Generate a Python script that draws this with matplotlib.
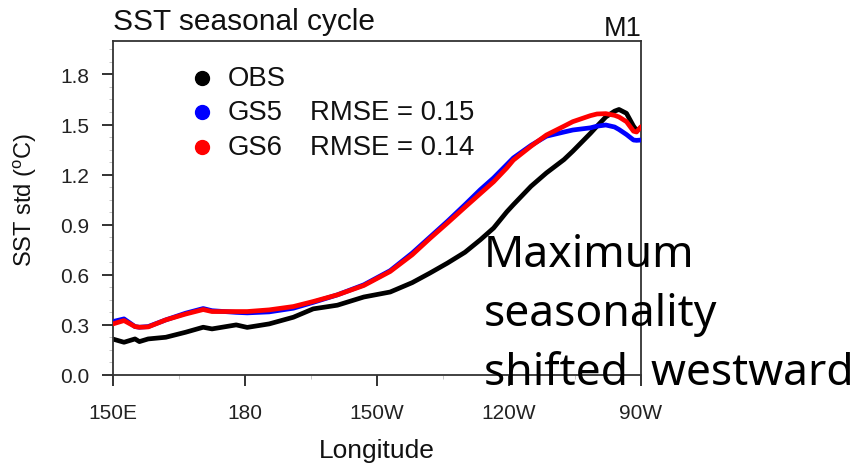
import numpy as np
import matplotlib
matplotlib.use("Agg")
import matplotlib.pyplot as plt
from matplotlib.ticker import MultipleLocator


# ---------------------------------------------
# Data
# ---------------------------------------------

lon = [150, 152.5, 155, 156, 158, 162, 166.5, 170.5, 172.5, 178, 180.5, 185.5,
       191, 195.5, 201, 207, 213, 218, 222, 226, 230, 233.5, 236.5, 239.5, 241,
       245, 248.5, 252.5, 254.5, 258.5, 260, 262, 264, 265, 266.7, 268.3, 269,
       270]

obs = [0.215, 0.196, 0.216, 0.20, 0.216, 0.226, 0.256, 0.286, 0.276, 0.30,
       0.285, 0.306, 0.346, 0.396, 0.418, 0.467, 0.497, 0.553, 0.61, 0.67,
       0.735, 0.81, 0.88, 0.977, 1.02, 1.13, 1.21, 1.29, 1.34, 1.447, 1.49,
       1.545, 1.58, 1.59, 1.567, 1.49, 1.465, 1.48]

gs5 = [0.32, 0.336, 0.29, 0.286, 0.29, 0.33, 0.37, 0.398, 0.385, 0.375, 0.372,
       0.378, 0.40, 0.435, 0.48, 0.54, 0.625, 0.73, 0.825, 0.92, 1.02, 1.11,
       1.18, 1.26, 1.30, 1.375, 1.43, 1.455, 1.467, 1.48, 1.49, 1.497, 1.485,
       1.47, 1.44, 1.407, 1.405, 1.407]

gs6 = [0.306, 0.326, 0.29, 0.286, 0.288, 0.33, 0.365, 0.392, 0.38, 0.38, 0.38,
       0.39, 0.41, 0.44, 0.48, 0.536, 0.62, 0.72, 0.817, 0.91, 1.005, 1.087,
       1.157, 1.24, 1.287, 1.37, 1.437, 1.49, 1.517, 1.553, 1.563, 1.565,
       1.555, 1.545, 1.517, 1.46, 1.455, 1.487]

series_names = ["OBS", "GS5", "GS6"]
series_colors = ["black", "#0000ff", "#ff0000"]
rmse_text = ["", "RMSE = 0.15", "RMSE = 0.14"]

xticks = [150, 180, 210, 240, 270]
xticklabels = ["150E", "180", "150W", "120W", "90W"]
yticks = [0.0, 0.3, 0.6, 0.9, 1.2, 1.5, 1.8]


# ---------------------------------------------
# Figure
# ---------------------------------------------

plt.rcParams["font.family"] = ["Liberation Sans", "DejaVu Sans"]
plt.rcParams["mathtext.fontset"] = "custom"
plt.rcParams["mathtext.rm"] = "Liberation Sans"

W, H = 854, 464
fig = plt.figure(figsize=(W / 100, H / 100), dpi=100)
ax = fig.add_axes([113 / W, (H - 376) / H, 528 / W, 334 / H])

ax.plot(lon, gs5, color=series_colors[1], lw=3.4, solid_capstyle="round",
        solid_joinstyle="round", zorder=3)
ax.plot(lon, gs6, color=series_colors[2], lw=3.4, solid_capstyle="round",
        solid_joinstyle="round", zorder=4)
ax.plot(lon, obs, color=series_colors[0], lw=3.4, solid_capstyle="round",
        solid_joinstyle="round", zorder=2)

ax.set_xlim(150, 270)
ax.set_ylim(0, 2.0)

ax.set_xticks(xticks)
ax.set_xticklabels(xticklabels)
ax.set_yticks(yticks)
ax.set_yticklabels([f"{v:.1f}" for v in yticks])
ax.xaxis.set_minor_locator(MultipleLocator(15))
ax.yaxis.set_minor_locator(MultipleLocator(0.075))

ax.tick_params(which="major", direction="out", length=8, width=1.3,
               labelsize=15, color="#222222", labelcolor="#222222")
ax.tick_params(axis="x", which="major", pad=12)
ax.tick_params(axis="y", which="major", pad=9)
ax.tick_params(which="minor", direction="out", length=3, width=0.6, color="#bbbbbb")

for s in ax.spines.values():
    s.set_linewidth(1.3)
    s.set_color("#333333")

# legend-like labels
leg_y = [0.888, 0.787, 0.683]
for name, c, r, yy in zip(series_names, series_colors, rmse_text, leg_y):
    ax.plot([0.168], [yy], "o", color=c, ms=10, transform=ax.transAxes,
            clip_on=False, zorder=5)
    ax.text(0.218, yy, name, transform=ax.transAxes, fontsize=19.8,
            va="center", ha="left", color="#111111")
    if r:
        ax.text(0.373, yy, r, transform=ax.transAxes, fontsize=19.8,
                va="center", ha="left", color="#111111")

# titles and labels
fig.text(113 / W, 1 - 30 / H, "SST seasonal cycle", fontsize=21.5,
         ha="left", va="baseline", color="#111111")
fig.text(642 / W, 1 - 36 / H, "M1", fontsize=19.5,
         ha="right", va="baseline", color="#111111")
fig.text(377 / W, 1 - 458 / H, "Longitude", fontsize=19,
         ha="center", va="baseline", color="#111111")
fig.text(25 / W, 1 - 200 / H, r"SST std ($^{\mathrm{o}}$C)", fontsize=17,
         rotation=90, ha="center", va="center", color="#111111")

# overlay annotation
fig.text(484 / W, 1 - 385 / H, "Maximum\nseasonality\nshifted  westward",
         family=["Noto Sans", "DejaVu Sans"], fontsize=32, ha="left",
         va="baseline", linespacing=1.46, color="black", zorder=10)

fig.savefig("out.png", dpi=100)
